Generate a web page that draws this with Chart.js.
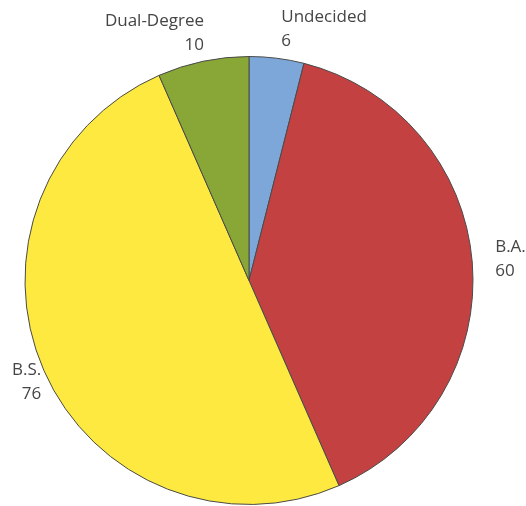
<!DOCTYPE html>
<html>
<head>
<meta charset="utf-8">
<script src="https://cdn.jsdelivr.net/npm/chart.js@4/dist/chart.umd.min.js"></script>
<style>
  html, body { margin: 0; padding: 0; background: #fff; }
  #pie { display: block; }
</style>
</head>
<body>
<canvas id="pie" width="526" height="506"></canvas>
<script>
// degree plan counts, clockwise from 12 o'clock
let categories = ['Undecided', 'B.A.', 'B.S.', 'Dual-Degree'];
let counts = [6, 60, 76, 10];
let sliceColors = ['#7da7d9', '#c44142', '#fde93f', '#88a737'];

// outside labels: name on one line, count under it
const sliceLabels = {
    id: 'sliceLabels',
    afterDatasetsDraw(chart) {
        let ctx = chart.ctx;
        let meta = chart.getDatasetMeta(0);
        let lineGap = 24;
        ctx.save();
        ctx.font = '17px "Open Sans", "Noto Sans", sans-serif';
        ctx.fillStyle = '#454545';
        ctx.textBaseline = 'middle';
        meta.data.forEach((arc, i) => {
            let p = arc.getProps(['x', 'y', 'startAngle', 'endAngle', 'outerRadius'], true);
            let mid = (p.startAngle + p.endAngle) / 2;
            let ux = Math.cos(mid);
            let uy = Math.sin(mid);
            let R = p.outerRadius + 13;
            let ax = p.x + ux * R + 2 + 8 * Math.abs(ux);
            let ay = p.y + uy * R;
            let h = lineGap + 8;
            let cy = ay + uy * h / 2;
            ctx.textAlign = ux >= 0 ? 'left' : 'right';
            ctx.fillText(chart.data.labels[i], ax, cy - lineGap / 2);
            ctx.fillText(String(chart.data.datasets[0].data[i]), ax, cy + lineGap / 2);
        });
        ctx.restore();
    }
};

let pieChart = document.getElementById('pie').getContext('2d');

new Chart(pieChart,
{
    type: 'pie',
    data:
    {
        labels: categories,
        datasets:
        [{
            data: counts,
            backgroundColor: sliceColors,
            borderColor: '#4a4a4a',
            borderWidth: 1,
            hoverOffset: 0
        }]
    },
    options:
    {
        responsive: false,
        animation: false,
        layout: { padding: { left: 24, right: 52, top: 56, bottom: 1 } },
        plugins:
        {
            legend: { display: false },
            tooltip: { enabled: false }
        }
    },
    plugins: [sliceLabels]
});
</script>
</body>
</html>
